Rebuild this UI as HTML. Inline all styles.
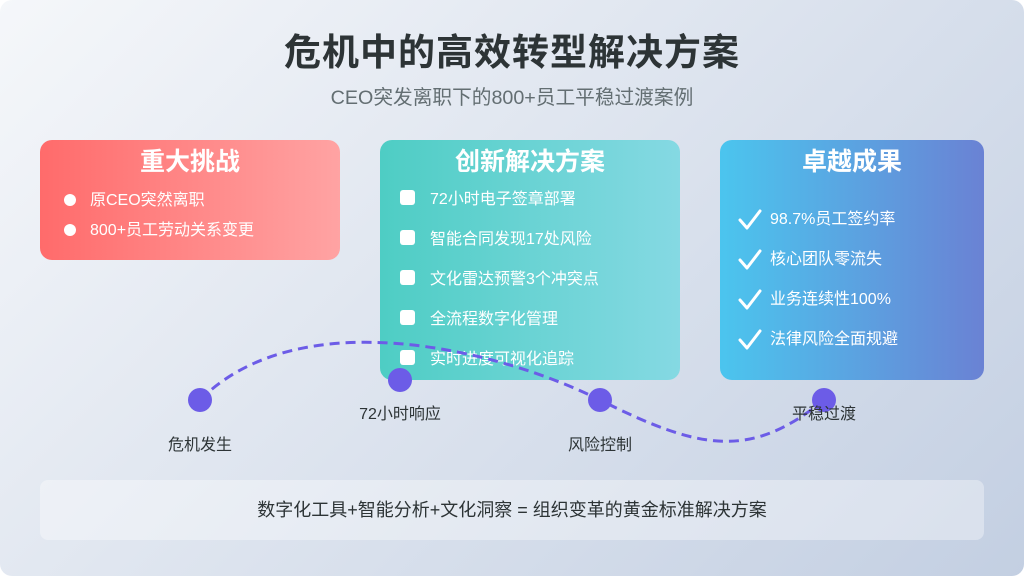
<!DOCTYPE html>
<html>
<head>
<meta charset="utf-8">
<style>
  html,body{margin:0;padding:0;background:#fff;}
  body{width:1024px;height:576px;overflow:hidden;font-family:"Liberation Sans","Noto Sans CJK SC",sans-serif;}
  .page{position:absolute;left:0;top:0;width:1024px;height:576px;border-radius:12px;overflow:hidden;
    background:linear-gradient(135deg,#f5f7fa 0%,#c3cfe2 100%);}
  .title{position:absolute;left:0;width:1024px;top:22px;text-align:center;font-size:37px;font-weight:bold;color:#2d3436;letter-spacing:1px;}
  .sub{position:absolute;left:0;width:1024px;top:81px;text-align:center;font-size:19.7px;color:#636e72;}
  .card{position:absolute;border-radius:12px;color:#fff;}
  .card h2{margin:0;position:absolute;left:0;right:0;top:6px;text-align:center;font-size:25px;font-weight:bold;line-height:32px;}
  .red{left:40px;top:140px;width:300px;height:120px;background:linear-gradient(90deg,#ff6b6b,#ffa3a3);}
  .teal{left:380px;top:140px;width:300px;height:240px;background:linear-gradient(90deg,#4ecdc4,#85d9e3);}
  .blue{left:720px;top:140px;width:264px;height:240px;background:linear-gradient(90deg,#4bc5ee,#6a82d4);}
  .item{position:absolute;font-size:16px;line-height:20px;white-space:nowrap;}
  .dot{position:absolute;width:12px;height:12px;border-radius:50%;background:#fff;}
  .sq{position:absolute;width:15px;height:15px;border-radius:3px;background:#fff;}
  .lbl{position:absolute;font-size:16px;color:#2d3436;white-space:nowrap;transform:translateX(-50%);line-height:20px;}
  .bottom{position:absolute;left:40px;top:480px;width:944px;height:60px;border-radius:8px;background:rgba(255,255,255,0.35);
    text-align:center;line-height:60px;font-size:18px;color:#2d3436;}
</style>
</head>
<body>
<div class="page">
  <div class="title">危机中的高效转型解决方案</div>
  <div class="sub">CEO突发离职下的800+员工平稳过渡案例</div>

  <div class="card red">
    <h2>重大挑战</h2>
    <div class="dot" style="left:24px;top:54px;"></div>
    <div class="item" style="left:50px;top:51px;">原CEO突然离职</div>
    <div class="dot" style="left:24px;top:84px;"></div>
    <div class="item" style="left:50px;top:81px;">800+员工劳动关系变更</div>
  </div>

  <div class="card teal">
    <h2>创新解决方案</h2>
    <div class="sq" style="left:20px;top:50px;"></div>
    <div class="item" style="left:50px;top:50px;">72小时电子签章部署</div>
    <div class="sq" style="left:20px;top:90px;"></div>
    <div class="item" style="left:50px;top:90px;">智能合同发现17处风险</div>
    <div class="sq" style="left:20px;top:130px;"></div>
    <div class="item" style="left:50px;top:130px;">文化雷达预警3个冲突点</div>
    <div class="sq" style="left:20px;top:170px;"></div>
    <div class="item" style="left:50px;top:170px;">全流程数字化管理</div>
    <div class="sq" style="left:20px;top:210px;"></div>
    <div class="item" style="left:50px;top:210px;">实时进度可视化追踪</div>
  </div>

  <div class="card blue">
    <h2>卓越成果</h2>
    <svg style="position:absolute;left:18px;top:68px;" width="26" height="180" viewBox="0 0 26 180">
      <g fill="none" stroke="#fff" stroke-width="3" stroke-linecap="round" stroke-linejoin="round">
        <path d="M2,12 L9,20 L22,3"/>
        <path d="M2,52 L9,60 L22,43"/>
        <path d="M2,92 L9,100 L22,83"/>
        <path d="M2,132 L9,140 L22,123"/>
      </g>
    </svg>
    <div class="item" style="left:50px;top:70px;">98.7%员工签约率</div>
    <div class="item" style="left:50px;top:110px;">核心团队零流失</div>
    <div class="item" style="left:50px;top:150px;">业务连续性100%</div>
    <div class="item" style="left:50px;top:190px;">法律风险全面规避</div>
  </div>

  <svg style="position:absolute;left:0;top:0;" width="1024" height="576" viewBox="0 0 1024 576">
    <path d="M200,400 C300,300 500,350 600,400 S750,460 824,400" fill="none" stroke="#6c5ce7" stroke-width="3" stroke-dasharray="10,6"/>
    <circle cx="200" cy="400" r="12" fill="#6c5ce7"/>
    <circle cx="400" cy="380" r="12" fill="#6c5ce7"/>
    <circle cx="600" cy="400" r="12" fill="#6c5ce7"/>
    <circle cx="824" cy="400" r="12" fill="#6c5ce7"/>
  </svg>

  <div class="lbl" style="left:200px;top:436px;">危机发生</div>
  <div class="lbl" style="left:400px;top:405px;">72小时响应</div>
  <div class="lbl" style="left:600px;top:436px;">风险控制</div>
  <div class="lbl" style="left:824px;top:405px;">平稳过渡</div>

  <div class="bottom">数字化工具+智能分析+文化洞察 = 组织变革的黄金标准解决方案</div>
</div>
</body>
</html>
